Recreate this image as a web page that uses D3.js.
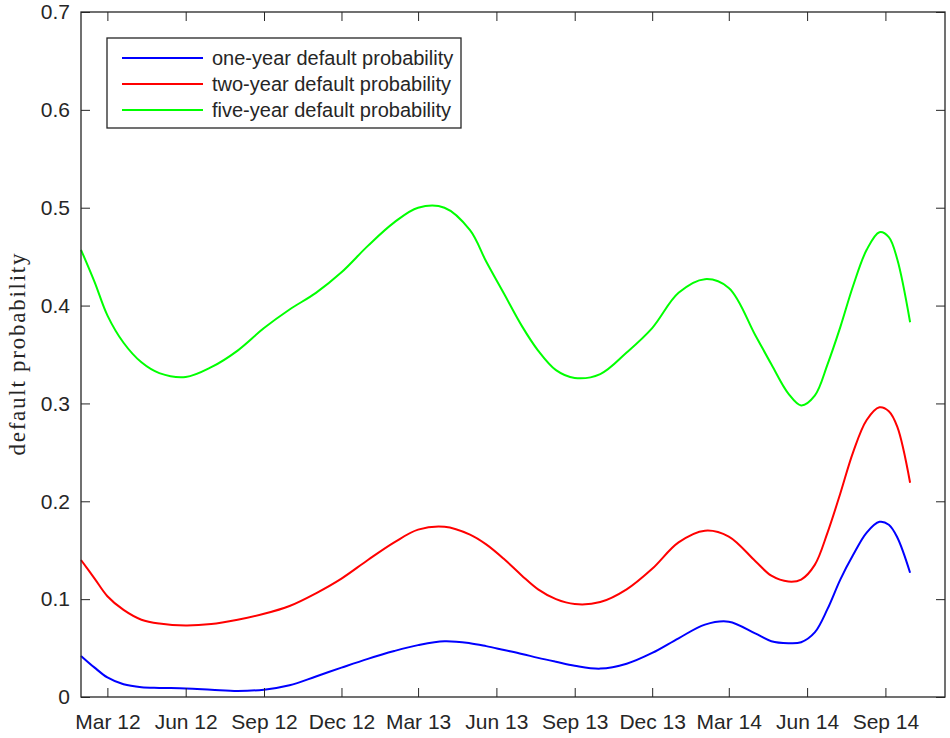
<!DOCTYPE html>
<html>
<head>
<meta charset="utf-8">
<script src="https://cdn.jsdelivr.net/npm/d3@7"></script>
<style>
  body { margin: 0; background: #fff; }
  svg { display: block; }
</style>
</head>
<body>
<svg id="chart" width="950" height="738"></svg>
<script>
const dates = [
  "2012-01-30","2012-02-15","2012-03-01","2012-03-20","2012-04-10","2012-05-01",
  "2012-06-01","2012-07-01","2012-08-01","2012-09-01","2012-10-01","2012-11-01",
  "2012-12-01","2013-01-01","2013-02-01","2013-03-01","2013-04-01","2013-05-01",
  "2013-05-20","2013-06-10","2013-07-01","2013-07-20","2013-08-10","2013-09-01",
  "2013-10-01","2013-11-01","2013-12-01","2014-01-01","2014-02-01","2014-03-01",
  "2014-04-01","2014-04-20","2014-05-10","2014-05-25","2014-06-10","2014-06-25",
  "2014-07-10","2014-07-25","2014-08-10","2014-08-25","2014-09-05","2014-09-15","2014-09-30"
];
const oneYear = [
  0.042,0.030,0.020,0.013,0.010,0.0093,
  0.0088,0.0075,0.0062,0.0075,0.012,0.021,
  0.030,0.039,0.047,0.053,0.057,0.055,
  0.052,0.048,0.044,0.040,0.036,0.032,
  0.029,0.034,0.045,0.060,0.074,0.077,
  0.065,0.057,0.055,0.056,0.066,0.090,
  0.120,0.145,0.168,0.179,0.176,0.163,0.127
];
const twoYear = [
  0.140,0.121,0.103,0.089,0.079,0.075,
  0.073,0.0745,0.079,0.085,0.093,0.106,
  0.121,0.140,0.158,0.171,0.174,0.166,
  0.156,0.141,0.124,0.110,0.100,0.095,
  0.097,0.110,0.131,0.158,0.170,0.164,
  0.139,0.124,0.118,0.120,0.135,0.168,
  0.208,0.250,0.283,0.296,0.292,0.276,0.219
];
const fiveYear = [
  0.457,0.424,0.390,0.362,0.342,0.331,
  0.327,0.337,0.354,0.377,0.396,0.413,
  0.434,0.461,0.485,0.500,0.500,0.477,
  0.445,0.412,0.379,0.354,0.334,0.326,
  0.330,0.352,0.377,0.413,0.427,0.418,
  0.370,0.340,0.310,0.298,0.308,0.340,
  0.378,0.420,0.457,0.475,0.470,0.447,0.383
];
const seriesNames = ["one-year default probability","two-year default probability","five-year default probability"];
const seriesColors = ["#0000ff","#ff0000","#00ff00"];
const xTickDates = ["2012-03-01","2012-06-01","2012-09-01","2012-12-01","2013-03-01","2013-06-01",
                    "2013-09-01","2013-12-01","2014-03-01","2014-06-01","2014-09-01"];
const xTickLabels = ["Mar 12","Jun 12","Sep 12","Dec 12","Mar 13","Jun 13",
                     "Sep 13","Dec 13","Mar 14","Jun 14","Sep 14"];
const yTicks = [0,0.1,0.2,0.3,0.4,0.5,0.6,0.7];
const yLabel = "default probability";

const parse = d3.utcParse("%Y-%m-%d");
const L = 81, R = 945, T = 12, B = 697;
const x = d3.scaleUtc().domain([parse("2012-01-30"), parse("2014-11-10")]).range([L, R]);
const y = d3.scaleLinear().domain([0, 0.7]).range([B, T]);

const svg = d3.select("#chart");
const axisColor = "#262626";
const tickFont = "Liberation Sans, Arial, sans-serif";

// Lines
const allSeries = [oneYear, twoYear, fiveYear];
const line = d3.line()
  .x((d, i) => x(parse(dates[i])))
  .y(d => y(d))
  .curve(d3.curveCatmullRom.alpha(0.5));

allSeries.forEach((vals, k) => {
  svg.append("path")
    .datum(vals)
    .attr("d", line)
    .attr("fill", "none")
    .attr("stroke", seriesColors[k])
    .attr("stroke-width", 2);
});

// Axes: bottom
const xAxis = d3.axisBottom(x)
  .tickValues(xTickDates.map(parse))
  .tickFormat((d, i) => xTickLabels[i])
  .tickSizeInner(-9).tickSizeOuter(0).tickPadding(17);
const gx = svg.append("g").attr("transform", `translate(0,${B})`).call(xAxis);
gx.select(".domain").remove();
gx.selectAll("line").attr("stroke", axisColor);
gx.selectAll("text").attr("font-family", tickFont).attr("font-size", 21).attr("fill", axisColor);

// top mirror ticks
const gxt = svg.append("g").attr("transform", `translate(0,${T})`)
  .call(d3.axisTop(x).tickValues(xTickDates.map(parse)).tickFormat("").tickSizeInner(-9).tickSizeOuter(0));
gxt.select(".domain").remove();
gxt.selectAll("line").attr("stroke", axisColor);

// left axis
const yAxis = d3.axisLeft(y).tickValues(yTicks)
  .tickFormat(d => d === 0 ? "0" : d3.format(".1f")(d))
  .tickSizeInner(-9).tickSizeOuter(0).tickPadding(11);
const gy = svg.append("g").attr("transform", `translate(${L},0)`).call(yAxis);
gy.select(".domain").remove();
gy.selectAll("line").attr("stroke", axisColor);
gy.selectAll("text").attr("font-family", tickFont).attr("font-size", 21).attr("fill", axisColor);

// right mirror ticks
const gyr = svg.append("g").attr("transform", `translate(${R},0)`)
  .call(d3.axisRight(y).tickValues(yTicks).tickFormat("").tickSizeInner(-9).tickSizeOuter(0));
gyr.select(".domain").remove();
gyr.selectAll("line").attr("stroke", axisColor);

// frame
svg.append("rect")
  .attr("x", L).attr("y", T).attr("width", R - L).attr("height", B - T)
  .attr("fill", "none").attr("stroke", axisColor).attr("stroke-width", 1.3);

// y label
svg.append("text")
  .attr("transform", `translate(25,${(T + B) / 2}) rotate(-90)`)
  .attr("text-anchor", "middle")
  .attr("font-family", "Liberation Serif, DejaVu Serif, serif")
  .attr("font-size", 23)
  .attr("fill", axisColor)
  .attr("textLength", 202)
  .attr("lengthAdjust", "spacing")
  .text(yLabel);

// legend
const lg = svg.append("g");
lg.append("rect")
  .attr("x", 107).attr("y", 38).attr("width", 354).attr("height", 90)
  .attr("fill", "#fff").attr("stroke", axisColor).attr("stroke-width", 1.3);
seriesNames.forEach((name, k) => {
  const cy = 58 + k * 26;
  lg.append("line").attr("x1", 122).attr("x2", 203).attr("y1", cy).attr("y2", cy)
    .attr("stroke", seriesColors[k]).attr("stroke-width", 2);
  lg.append("text").attr("x", 212).attr("y", cy + 7)
    .attr("font-family", tickFont).attr("font-size", 20).attr("fill", axisColor)
    .text(name);
});
</script>
</body>
</html>
